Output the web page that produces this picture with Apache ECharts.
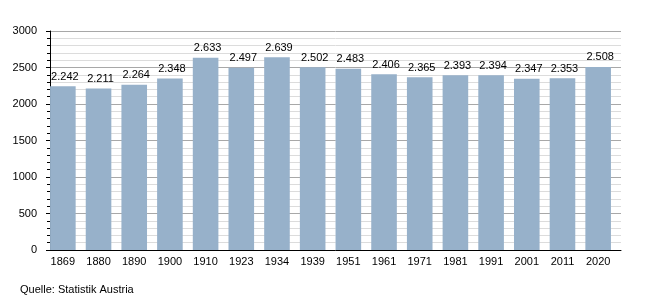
<!DOCTYPE html>
<html><head><meta charset="utf-8">
<script src="https://cdn.jsdelivr.net/npm/echarts@6/dist/echarts.min.js"></script>
<style>html,body{margin:0;padding:0;background:#fff}#c{width:650px;height:300px}</style>
</head><body><div id="c"></div>
<script>
const years = ['1869','1880','1890','1900','1910','1923','1934','1939','1951','1961','1971','1981','1991','2001','2011','2020'];
const population = [2242,2211,2264,2348,2633,2497,2639,2502,2483,2406,2365,2393,2394,2347,2353,2508];
const yTicks = [0,500,1000,1500,2000,2500,3000];
const sourceText = 'Quelle: Statistik Austria';

const font = 'Liberation Sans, Arial, sans-serif';
const chart = echarts.init(document.getElementById('c'), null, {renderer:'canvas'});
const fmt = v => { const s = String(v); return s.length > 3 ? s.slice(0, s.length-3) + '.' + s.slice(-3) : s; };
chart.setOption({
  animation: false,
  grid: {left: 50, right: 29, top: 31, bottom: 50},
  xAxis: [{
    type: 'category', data: years, boundaryGap: true,
    axisLine: {lineStyle: {color: '#000', width: 1}},
    axisTick: {show: false},
    axisLabel: {interval: 0, color: '#000', fontFamily: font, fontSize: 11, margin: 6,
      formatter: v => '{a|' + v + '}',
      rich: {a: {padding: [0, 10, 0, 0], fontFamily: font, fontSize: 11, color: '#000'}}},
    splitLine: {show: false}
  }],
  yAxis: [{
    type: 'value', min: 0, max: 3000, interval: 500,
    axisLine: {show: true, lineStyle: {color: '#000', width: 1}},
    axisTick: {show: true, length: 4, lineStyle: {color: '#000'}},
    minorTick: {show: true, splitNumber: 5, length: 3, lineStyle: {color: '#000'}},
    axisLabel: {color: '#000', fontFamily: font, fontSize: 11, margin: 13,
      formatter: v => yTicks.includes(v) ? String(v) : ''},
    splitLine: {show: true, lineStyle: {color: '#a8a8a8', width: 1}},
    minorSplitLine: {show: true, lineStyle: {color: '#dcdcdc', width: 1}}
  }],
  series: [{
    type: 'bar', data: population, barWidth: 25.6, barGap: '-61%',
    itemStyle: {color: '#97b1ca'},
    label: {show: true, position: 'top', distance: 4, offset: [2, 0], color: '#000', fontFamily: font, fontSize: 11,
      formatter: p => fmt(p.value)},
    z: 3
  }, {
    type: 'bar', data: population.map(() => null), barWidth: 25.6, barGap: '-61%', silent: true
  }],
  graphic: [{
    type: 'text', left: 20, top: 284,
    style: {text: sourceText, fill: '#000', font: '11px ' + font}
  }]
});
</script></body></html>
